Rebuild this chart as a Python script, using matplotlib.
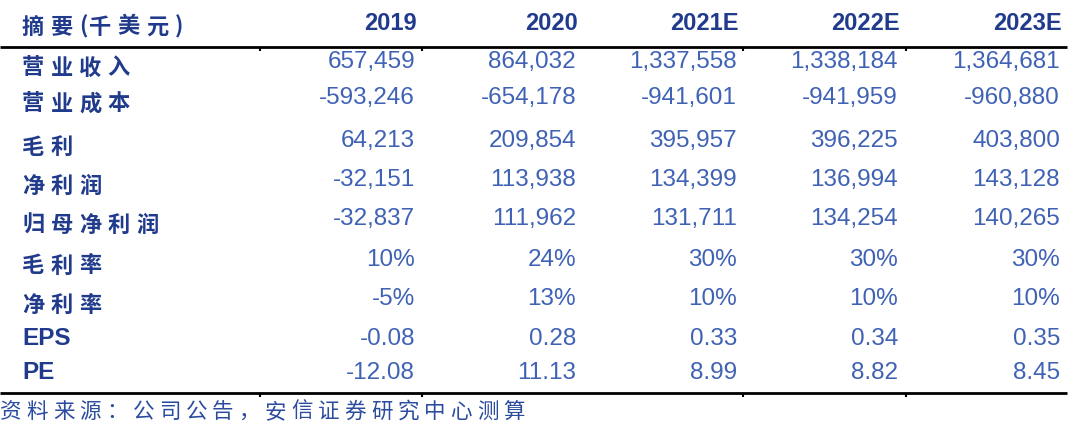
import matplotlib.pyplot as plt

plt.rcParams['font.family'] = ['Noto Sans CJK SC', 'DejaVu Sans']

# --- table data ---
header_label = "摘要(千美元)"
years = ["2019", "2020", "2021E", "2022E", "2023E"]
row_labels = ["营业收入", "营业成本", "毛利", "净利润", "归母净利润",
              "毛利率", "净利率", "EPS", "PE"]
revenue = ["657,459", "864,032", "1,337,558", "1,338,184", "1,364,681"]
cost = ["-593,246", "-654,178", "-941,601", "-941,959", "-960,880"]
gross = ["64,213", "209,854", "395,957", "396,225", "403,800"]
net = ["-32,151", "113,938", "134,399", "136,994", "143,128"]
net_parent = ["-32,837", "111,962", "131,711", "134,254", "140,265"]
gross_margin = ["10%", "24%", "30%", "30%", "30%"]
net_margin = ["-5%", "13%", "10%", "10%", "10%"]
eps = ["-0.08", "0.28", "0.33", "0.34", "0.35"]
pe = ["-12.08", "11.13", "8.99", "8.82", "8.45"]
source = "资料来源：公司公告，安信证券研究中心测算"

rows = [revenue, cost, gross, net, net_parent, gross_margin, net_margin, eps, pe]

# --- layout (pixel coords) ---
W, H = 1080, 442
col_right = [415, 576, 737, 898, 1060]
row_y = [59, 95, 138, 177, 216, 257, 296, 336, 370]   # visual centre of digits
header_y = 22
navy = "#203a8c"
blue = "#3f62b5"

fig = plt.figure(figsize=(W / 100, H / 100), dpi=100)
ax = fig.add_axes([0, 0, 1, 1])
ax.set_xlim(0, W)
ax.set_ylim(H, 0)
ax.axis("off")


def spaced(text, x, y, pitch=28.5, **kw):
    # draw CJK text char by char to mimic wide letter spacing
    for ch in text:
        ax.text(x, y, ch, ha="left", va="center", **kw)
        x += pitch if ord(ch) > 255 else 10


spaced(header_label, 22, header_y + 5, fontsize=16, fontweight="bold", color=navy)
for yr, xr in zip(years, col_right):
    ax.text(xr + 2, header_y + 8.5, yr, ha="right", va="baseline", fontsize=17,
            fontweight="bold", color=navy, family="Liberation Sans")

for lab, vals, y in zip(row_labels, rows, row_y):
    if lab.isascii():
        ax.text(22, y + 8.7, lab, ha="left", va="baseline", fontsize=17.5,
                fontweight="bold", color=navy, family="Liberation Sans")
    else:
        spaced(lab, 22, y + 9, fontsize=16, fontweight="bold", color=navy)
    for v, xr in zip(vals, col_right):
        ax.text(xr, y + 8.7, v, ha="right", va="baseline", fontsize=17.5,
                color=blue, family="Liberation Sans")

# rules
for ly in (47, 393):
    ax.plot([0, 1067], [ly, ly], color="black", lw=2, solid_capstyle="butt")
    ax.vlines([260, 422, 743, 906], ly, ly + 4, color="black", lw=1.5)

spaced(source, 0, 412, pitch=26.5, fontsize=15.5, color="#2b4c9e", style="italic")

fig.savefig("out.png", dpi=100)
